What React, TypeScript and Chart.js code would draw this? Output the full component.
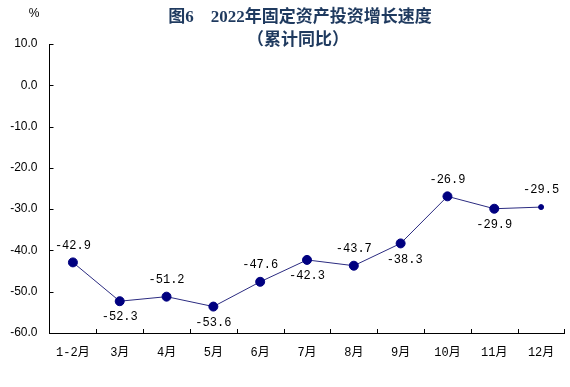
import React, { useEffect, useRef } from "react";
import { Chart, registerables } from "chart.js";

Chart.register(...registerables);

const categories = ["1-2月", "3月", "4月", "5月", "6月", "7月", "8月", "9月", "10月", "11月", "12月"];
const growth = [-42.9, -52.3, -51.2, -53.6, -47.6, -42.3, -43.7, -38.3, -26.9, -29.9, -29.5];
const labelSide = ["above", "below", "above", "below", "above", "below", "above", "below", "above", "below", "above"];
const titleLines = ["图6　2022年固定资产投资增长速度", "（累计同比）"];
const unitLabel = "%";

const LINE_COLOR = "#2b2b80";
const POINT_COLOR = "#000080";
const TITLE_COLOR = "#1f3a5f";

const decorPlugin = {
  id: "decor",
  afterDraw(chart: any) {
    const ctx = chart.ctx;
    const xs = chart.scales.x;
    const ys = chart.scales.y;
    const area = chart.chartArea;
    ctx.save();
    // inward tick marks
    ctx.strokeStyle = "#000";
    ctx.lineWidth = 1;
    ctx.beginPath();
    ys.ticks.forEach((t: any) => {
      const y = Math.round(ys.getPixelForValue(t.value)) + 0.5;
      ctx.moveTo(area.left, y);
      ctx.lineTo(area.left + 4, y);
    });
    for (let i = 1; i <= categories.length; i++) {
      const x = Math.round((xs.getPixelForValue(i - 1) + xs.getPixelForValue(i)) / 2) + 0.5;
      const xx = i === categories.length ? Math.round(area.right) - 0.5 : x;
      ctx.moveTo(xx, area.bottom);
      ctx.lineTo(xx, area.bottom - 4);
    }
    ctx.stroke();

    // data labels
    const meta = chart.getDatasetMeta(0);
    ctx.fillStyle = "#000";
    ctx.font = "12px 'Liberation Mono', 'Noto Sans CJK SC', monospace";
    ctx.textAlign = "center";
    ctx.textBaseline = "middle";
    meta.data.forEach((pt: any, i: number) => {
      const dy = labelSide[i] === "above" ? -17 : 16;
      const dx = i === 7 ? 4 : 0;
      ctx.fillText(growth[i].toFixed(1), pt.x + dx, pt.y + dy);
    });

    // title
    ctx.fillStyle = TITLE_COLOR;
    ctx.font = "bold 17px 'Liberation Serif', 'Noto Sans CJK SC', serif";
    ctx.fillText(titleLines[0], 300, 18);
    ctx.fillText(titleLines[1], 298, 41);

    ctx.fillStyle = "#000";
    ctx.font = "12px 'Liberation Sans', Arial, sans-serif";
    ctx.fillText(unitLabel, 34, 14);
    ctx.restore();
  },
};

export default function App() {
  const ref = useRef<HTMLCanvasElement | null>(null);
  useEffect(() => {
    document.body.style.margin = "0";
    if (!ref.current) return;
    const chart = new Chart(ref.current, {
      type: "line",
      data: {
        labels: categories,
        datasets: [
          {
            data: growth,
            borderColor: LINE_COLOR,
            borderWidth: 1,
            pointBackgroundColor: POINT_COLOR,
            pointBorderColor: POINT_COLOR,
            pointRadius: growth.map((_, i) => (i === growth.length - 1 ? 2.5 : 4.5)),
            tension: 0,
          },
        ],
      },
      options: {
        responsive: false,
        animation: false,
        layout: { padding: { top: 44, right: 1, left: 0, bottom: 0 } },
        plugins: { legend: { display: false }, title: { display: false }, tooltip: { enabled: false } },
        scales: {
          x: {
            offset: true,
            grid: { display: false, drawTicks: false },
            border: { display: true, color: "#000", width: 1 },
            ticks: {
              padding: 13,
              color: "#000",
              font: { family: "'Liberation Mono', 'Noto Sans CJK SC', monospace", size: 12 },
              maxRotation: 0,
              autoSkip: false,
            },
            afterFit: (s: any) => {
              s.height = 54;
            },
          },
          y: {
            min: -60,
            max: 10,
            grid: { display: false, drawTicks: false },
            border: { display: true, color: "#000", width: 1 },
            ticks: {
              stepSize: 10,
              padding: 12,
              color: "#000",
              font: { family: "'Liberation Sans', Arial, sans-serif", size: 12 },
              callback: (v: any) => Number(v).toFixed(1),
            },
            afterFit: (s: any) => {
              s.width = 49.5;
            },
          },
        },
      },
      plugins: [decorPlugin],
    });
    return () => chart.destroy();
  }, []);
  return <canvas ref={ref} width={570} height={387} style={{ display: "block" }} />;
}
